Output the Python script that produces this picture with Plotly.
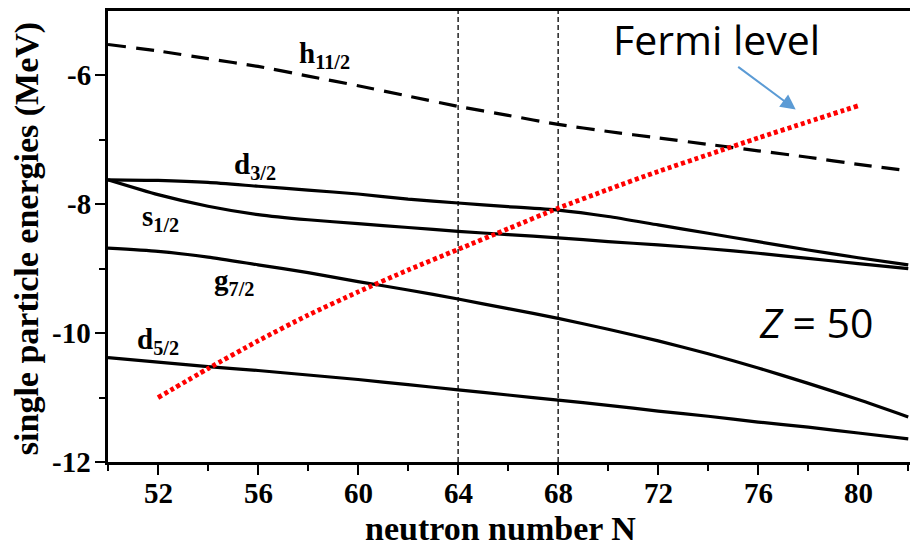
import plotly.graph_objects as go

# Neutron number grid for the single-particle levels
N = [50, 52, 54, 56, 58, 60, 62, 64, 66, 68, 70, 72, 74, 76, 78, 80, 82]

# Single-particle energies (MeV) for Z = 50
h11_2 = [-5.52, -5.62, -5.74, -5.86, -6.01, -6.16, -6.32, -6.48, -6.62, -6.76,
         -6.87, -6.97, -7.07, -7.17, -7.27, -7.38, -7.48]
d3_2 = [-7.62, -7.63, -7.66, -7.72, -7.78, -7.84, -7.92, -7.98, -8.035, -8.09,
        -8.19, -8.32, -8.45, -8.58, -8.71, -8.83, -8.94]
s1_2 = [-7.62, -7.85, -8.03, -8.16, -8.24, -8.30, -8.36, -8.42, -8.47, -8.52,
        -8.58, -8.63, -8.69, -8.76, -8.84, -8.92, -9.00]
g7_2 = [-8.68, -8.73, -8.82, -8.94, -9.06, -9.20, -9.33, -9.47, -9.62, -9.77,
        -9.94, -10.12, -10.32, -10.54, -10.78, -11.03, -11.30]
d5_2 = [-10.38, -10.45, -10.52, -10.58, -10.65, -10.72, -10.80, -10.88, -10.96,
        -11.04, -11.12, -11.21, -11.29, -11.38, -11.46, -11.55, -11.64]

# Fermi level
N_fermi = [52, 54, 56, 58, 60, 62, 64, 66, 68, 70, 72, 74, 76, 78, 80]
e_fermi = [-11.00, -10.55, -10.12, -9.72, -9.36, -9.02, -8.70, -8.38, -8.06,
           -7.77, -7.49, -7.23, -6.97, -6.72, -6.47]

# Marked neutron numbers
N_marks = [64, 68]

x_ticks = [52, 56, 60, 64, 68, 72, 76, 80]
y_ticks = [-12, -10, -8, -6]

SERIF = "Liberation Serif"
SANS = "Open Sans"
X_RANGE = [50, 82.07]
Y_RANGE = [-12, -5]

fig = go.Figure()

for n in N_marks:
    fig.add_trace(go.Scatter(
        x=[n, n], y=Y_RANGE, mode="lines",
        line=dict(color="black", width=1.3, dash="5px,3px"),
        hoverinfo="skip", showlegend=False))

fig.add_trace(go.Scatter(
    x=N, y=h11_2, mode="lines",
    line=dict(color="black", width=3.2, dash="18px,10px", shape="spline",
              smoothing=0.6),
    showlegend=False))

for ys in (d3_2, s1_2, g7_2, d5_2):
    fig.add_trace(go.Scatter(
        x=N, y=ys, mode="lines",
        line=dict(color="black", width=3.2, shape="spline", smoothing=0.6),
        showlegend=False))

fig.add_trace(go.Scatter(
    x=N_fermi, y=e_fermi, mode="lines",
    line=dict(color="#ff0000", width=4.8, dash="4px,3px", shape="spline",
              smoothing=0.6),
    showlegend=False))

label_font = dict(family=SERIF, size=29, color="black", weight="bold")
labels = [
    ("h<sub>11/2</sub>", 58.67, -5.68),
    ("d<sub>3/2</sub>", 55.87, -7.40),
    ("s<sub>1/2</sub>", 52.11, -8.22),
    ("g<sub>7/2</sub>", 55.03, -9.20),
    ("d<sub>5/2</sub>", 52.01, -10.12),
]
for txt, lx, ly in labels:
    fig.add_annotation(x=lx, y=ly, xref="x", yref="y", text=txt,
                       showarrow=False, font=label_font,
                       xanchor="center", yanchor="middle")

# Fermi level callout with arrow
sans_font = dict(family=SANS, size=41, color="black", weight="normal")
fig.add_annotation(x=74.34, y=-5.43, xref="x", yref="y", text="Fermi level",
                   showarrow=False, font=sans_font,
                   xanchor="center", yanchor="middle")
fig.add_annotation(x=77.5, y=-6.53, ax=75.14, ay=-5.85,
                   xref="x", yref="y", axref="x", ayref="y", text="",
                   showarrow=True, arrowhead=2, arrowsize=1.5,
                   arrowwidth=2, arrowcolor="#5b9bd5")

fig.add_annotation(x=78.33, y=-9.82, xref="x", yref="y",
                   text="<i>Z</i> = 50", showarrow=False, font=sans_font,
                   xanchor="center", yanchor="middle")

# Axis titles
title_font = dict(family=SERIF, size=34, color="black", weight="bold")
fig.add_annotation(x=0, y=0.494, xref="paper", yref="paper", xshift=-81,
                   text="single particle energies (MeV)", textangle=-90,
                   showarrow=False, font=title_font,
                   xanchor="center", yanchor="middle")
fig.add_annotation(x=0.489, y=0, xref="paper", yref="paper", yshift=-66,
                   text="neutron number N", showarrow=False, font=title_font,
                   xanchor="center", yanchor="middle")

# Bold serif tick labels
tick_font = dict(family=SERIF, size=29, color="black", weight="bold")
for v in x_ticks:
    fig.add_annotation(x=v, y=0, xref="x", yref="paper", text=str(v),
                       showarrow=False, font=tick_font, yshift=-31,
                       xanchor="center", yanchor="middle")
for v in y_ticks:
    fig.add_annotation(x=0, y=v, xref="paper", yref="y", text=str(v),
                       showarrow=False, font=tick_font, xshift=-15,
                       xanchor="right", yanchor="middle")

fig.update_xaxes(
    range=X_RANGE, tickmode="array", tickvals=x_ticks, showticklabels=False,
    ticks="outside", ticklen=10, tickwidth=2, tickcolor="black",
    showgrid=False, zeroline=False,
    showline=True, linecolor="black", linewidth=2.8, mirror=True,
    minor=dict(tickvals=[n + 2 for n in [48] + x_ticks], ticks="outside",
               ticklen=6, tickwidth=2, tickcolor="black"))
fig.update_yaxes(
    range=Y_RANGE, tickmode="array", tickvals=y_ticks, showticklabels=False,
    ticks="outside", ticklen=10, tickwidth=2, tickcolor="black",
    showgrid=False, zeroline=False,
    showline=True, linecolor="black", linewidth=2.8,
    minor=dict(tickvals=[-11, -9, -7], ticks="outside",
               ticklen=6, tickwidth=2, tickcolor="black"))

fig.update_layout(
    width=910, height=545,
    font=dict(family=SERIF, color="black"),
    margin=dict(l=108, r=0, t=11, b=83),
    plot_bgcolor="white", paper_bgcolor="white",
    showlegend=False,
)

fig.write_html("out.html")
